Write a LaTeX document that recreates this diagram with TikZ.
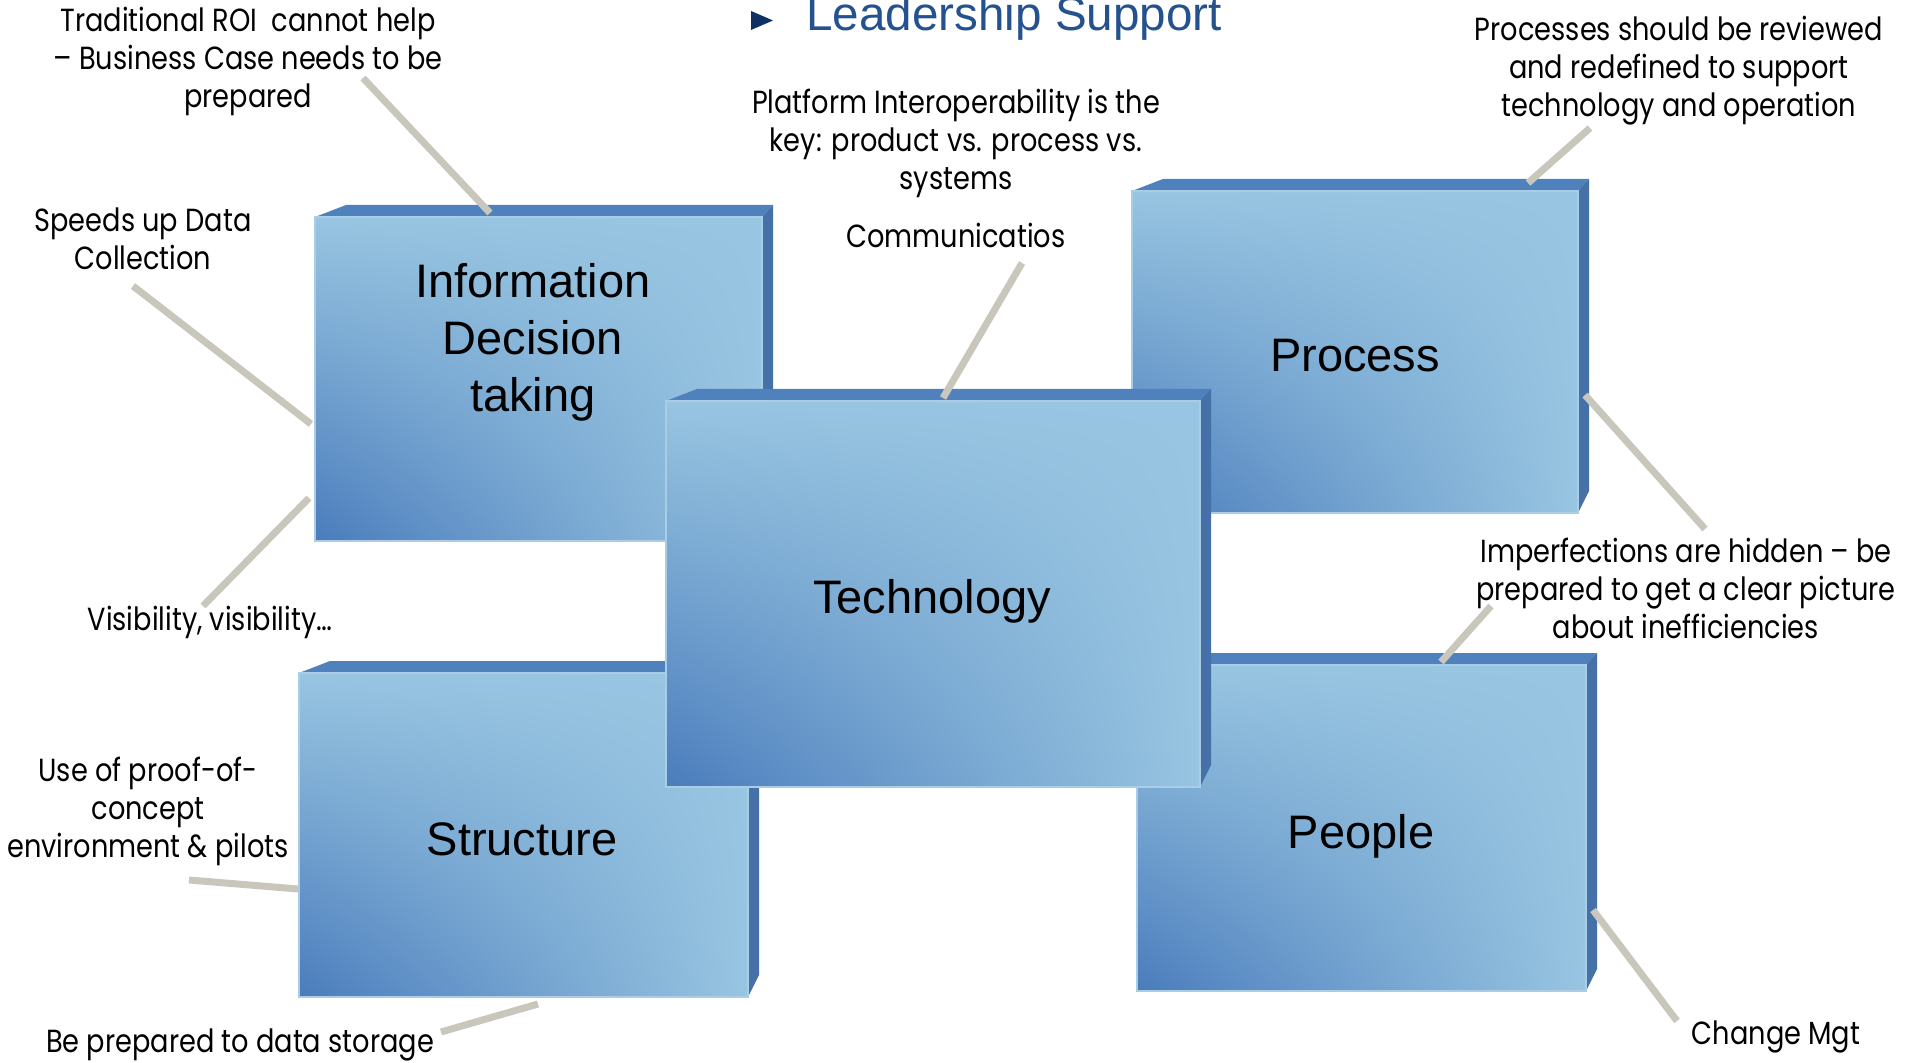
\documentclass[tikz,border=0pt]{standalone}
\usepackage{fontspec}
\setmainfont{Liberation Sans}
\newfontfamily\callfont[FakeStretch=0.85]{Poppins}
\usetikzlibrary{calc,shadings}
\definecolor{faceLight}{RGB}{152,197,225}
\definecolor{faceDark}{RGB}{74,124,188}
\definecolor{topBlue}{RGB}{79,129,189}
\definecolor{sideBlue}{RGB}{69,112,168}
\definecolor{rimBlue}{RGB}{170,205,230}
\definecolor{connGrey}{RGB}{201,199,187}
\definecolor{titleBlue}{RGB}{36,82,142}
\definecolor{bulletNavy}{RGB}{14,49,99}
\tikzset{
  topface/.style={fill=topBlue},
  sideface/.style={fill=sideBlue},
  frontface/.style={lower left=faceDark, upper left=faceLight, upper right=faceLight, lower right=faceLight, draw=rimBlue, line width=0.75pt},
  boxlabel/.style={font=\fontsize{23.5}{28.5}\selectfont, align=center, anchor=base, inner sep=0pt},
  callout/.style={font=\callfont\fontsize{16}{19}\selectfont, align=center, anchor=base, inner sep=0pt},
  conn/.style={draw=connGrey, line width=3.5pt},
}
\newcommand{\bevelbox}[5]{%
  \fill[topface] (#2,#3) -- (#2+31,#3-12) -- (#4+11,#3-12) -- (#4,#3) -- cycle;
  \fill[sideface] (#4,#3) -- (#4+11,#3-12) -- (#4+11,#5-22) -- (#4,#5) -- cycle;
  \shadedraw[frontface] (#2,#3) rectangle (#4,#5);
  \coordinate (#1-nw) at (#2,#3);
  \coordinate (#1-se) at (#4,#5);
}
\begin{document}
\begin{tikzpicture}[x=0.5pt,y=-0.5pt]
\fill[white] (0,0) rectangle (1916,1063);
\useasboundingbox (0,0) rectangle (1916,1063);

% title
\fill[bulletNavy] (751,11) -- (773,20.5) -- (751,30) -- cycle;
\node[anchor=base west, inner sep=0pt, font=\fontsize{23.8}{28}\selectfont, text=titleBlue] (title) at (806,31) {Leadership Support};

% boxes
\bevelbox{info}{315}{217}{762}{541}
\bevelbox{process}{1132}{191}{1578}{513}
\bevelbox{structure}{299}{673}{748}{997}
\bevelbox{people}{1137}{665}{1586}{991}
\bevelbox{tech}{666}{401}{1200}{787}

% box labels (anchor = baseline of the last line)
\node[boxlabel] (infolabel) at (533,412) {Information\\Decision\\ taking};
\node[boxlabel] (processlabel) at (1355,372) {Process};
\node[boxlabel] (structurelabel) at (522,855) {Structure};
\node[boxlabel] (peoplelabel) at (1361,848) {People};
\node[boxlabel] (techlabel) at (932,613) {Technology};

% callouts (anchor = baseline of the last line)
\node[callout] (roi) at (248,108) {Traditional ROI\ \ cannot help\\– Business Case needs to be\\prepared};
\node[callout] (speeds) at (143,270) {Speeds up Data\\Collection};
\node[callout] (visib) at (210,630) {Visibility, visibility…};
\node[callout] (proof) at (148,857) {Use of proof-of-\\concept\\environment \& pilots};
\node[callout] (storage) at (240,1052) {Be prepared to data storage};
\node[callout] (platform) at (956,190) {Platform Interoperability is the\\key: product vs. process vs.\\systems};
\node[callout] (comm) at (956,248) {Communicatios};
\node[callout] (procrev) at (1679,117) {Processes should be reviewed\\and redefined to support\\technology and operation};
\node[callout] (imperf) at (1686,639) {Imperfections are hidden – be\\prepared to get a clear picture\\about inefficiencies};
\node[callout] (change) at (1776,1044) {Change Mgt};

% connector ends
\coordinate (c1a) at (363,78);   \coordinate (c1b) at (490,213);
\coordinate (c2a) at (133,286);  \coordinate (c2b) at (311,424);
\coordinate (c3a) at (203,606);  \coordinate (c3b) at (309,498);
\coordinate (c4a) at (189,880);  \coordinate (c4b) at (298,889);
\coordinate (c5a) at (441,1032); \coordinate (c5b) at (538,1004);
\coordinate (c6a) at (1022,263); \coordinate (c6b) at (943,398);
\coordinate (c7a) at (1590,128); \coordinate (c7b) at (1528,183);
\coordinate (c8a) at (1705,529); \coordinate (c8b) at (1585,395);
\coordinate (c8c) at (1491,606); \coordinate (c8d) at (1441,662);
\coordinate (c9a) at (1677,1021);\coordinate (c9b) at (1593,910);

\draw[conn] (c1a) -- (c1b);
\draw[conn] (c2a) -- (c2b);
\draw[conn] (c3a) -- (c3b);
\draw[conn] (c4a) -- (c4b);
\draw[conn] (c5a) -- (c5b);
\draw[conn] (c6a) -- (c6b);
\draw[conn] (c7a) -- (c7b);
\draw[conn] (c8a) -- (c8b);
\draw[conn] (c8c) -- (c8d);
\draw[conn] (c9a) -- (c9b);
\end{tikzpicture}
\end{document}
